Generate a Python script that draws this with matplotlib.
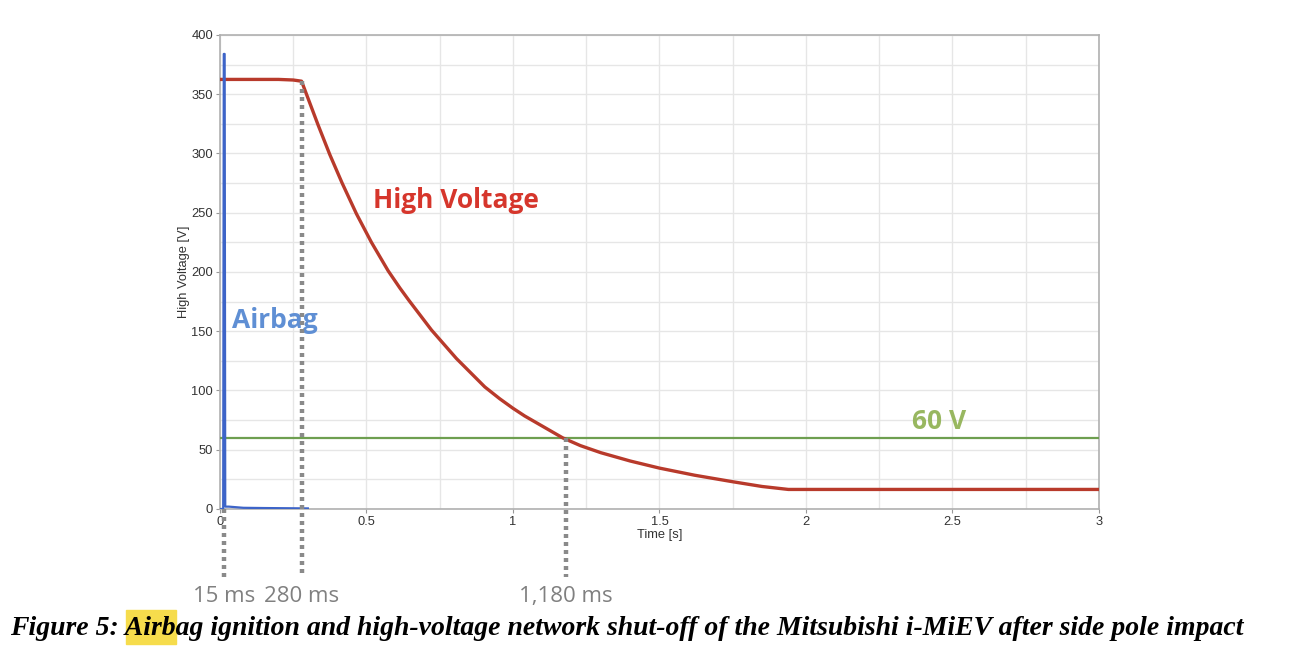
import matplotlib.pyplot as plt
from matplotlib.patches import Rectangle

# high-voltage trace (time in s, voltage in V)
hv_time = [0.0, 0.10, 0.20, 0.25, 0.2785, 0.335, 0.375, 0.417, 0.466, 0.517,
           0.574, 0.614, 0.645, 0.722, 0.807, 0.904, 0.955, 1.0, 1.04, 1.17,
           1.23, 1.30, 1.40, 1.50, 1.62, 1.75, 1.85, 1.94, 2.2, 2.6, 3.0]
hv_volt = [362.5, 362.5, 362.5, 362, 361, 324, 299, 275, 249, 225,
           201, 186.5, 176, 151, 127, 103, 93, 85, 78.5, 60,
           53.5, 47.5, 40.5, 34.5, 28.5, 23, 19, 16.5, 16.5, 16.5, 16.5]

# airbag trigger signal
ab_time = [0.0, 0.011, 0.013, 0.016, 0.018, 0.03, 0.08, 0.15, 0.30]
ab_volt = [0, 0, 384, 384, 2, 2, 1, 0.8, 0.5]

limit_v = 60
marks_s = [0.015, 0.280, 1.180]
marks_lbl = ["15 ms", "280 ms", "1,180 ms"]
marks_top = [0, 361, 60]

x_ticks = [0, 0.5, 1, 1.5, 2, 2.5, 3]
x_tick_lbl = ["0", "0.5", "1", "1.5", "2", "2.5", "3"]
y_ticks = [0, 50, 100, 150, 200, 250, 300, 350, 400]

caption = ("Figure 5: Airbag ignition and high-voltage network shut-off "
           "of the Mitsubishi i-MiEV after side pole impact")

fig = plt.figure(figsize=(13.07, 6.6), dpi=100)
ax = fig.add_axes([0.1683, 0.2288, 0.6725, 0.7182])

# grid every 0.25 s / 25 V
ax.set_xticks([i * 0.25 for i in range(13)], minor=True)
ax.set_yticks([i * 25 for i in range(17)], minor=True)
ax.grid(True, which="both", color="#e6e6e6", lw=1)
ax.set_axisbelow(True)

ax.plot([0, 3], [limit_v, limit_v], color="#6e9f50", lw=1.6, zorder=3)
ax.plot(hv_time, hv_volt, color="#b83a2b", lw=2.4, zorder=4,
        solid_joinstyle="round")
ax.plot(ab_time, ab_volt, color="#3d64c8", lw=1.6, zorder=5)

for t, top, lbl in zip(marks_s, marks_top, marks_lbl):
    ax.plot([t, t], [top, -57], color="#8a8a8a", lw=3.2, ls=(0, (0.9, 0.9)),
            clip_on=False, zorder=6)
    ax.text(t, -74, lbl, color="#808080", fontsize=16, ha="center", va="center",
            family="Open Sans", clip_on=False)

ax.text(0.805, 260, "High Voltage", color="#d6362c", fontsize=19, fontweight="bold",
        family="Open Sans", ha="center", va="center")
ax.text(0.04, 159, "Airbag", color="#5f8fd4", fontsize=19, fontweight="bold",
        family="Open Sans", ha="left", va="center")
ax.text(2.455, 74, "60 V", color="#98b760", fontsize=19, fontweight="bold",
        family="Open Sans", ha="center", va="center")

ax.set_xlim(0, 3)
ax.set_ylim(0, 400)
ax.set_xticks(x_ticks)
ax.set_xticklabels(x_tick_lbl, family="Liberation Sans")
ax.set_yticks(y_ticks)
ax.set_yticklabels([str(v) for v in y_ticks], family="Liberation Sans")
ax.tick_params(which="major", length=3, color="#999999", labelsize=9.3,
               labelcolor="#333333", pad=2)
ax.tick_params(which="minor", length=0)
for s in ax.spines.values():
    s.set_color("#b0b0b0")
    s.set_linewidth(1.2)
ax.set_xlabel("Time [s]", fontsize=9.3, color="#333333", labelpad=1,
              family="Liberation Sans")
ax.set_ylabel("High Voltage [V]", fontsize=9.3, color="#333333", labelpad=1,
              family="Liberation Sans")

# caption with highlighted "Airb"
cap_kw = dict(family="Liberation Serif", fontsize=20, fontweight="bold",
              style="italic", ha="left", va="center")
cap_x, cap_y = 10 / 1307, 0.048
fig.text(cap_x, cap_y, caption, **cap_kw)
fig.canvas.draw()
rend = fig.canvas.get_renderer()
pre = fig.text(cap_x, cap_y, "Figure 5: ", **cap_kw)
pre2 = fig.text(cap_x, cap_y, "Figure 5: Airb", **cap_kw)
w1 = pre.get_window_extent(rend).x1
w2 = pre2.get_window_extent(rend).x1
pre.remove()
pre2.remove()
fw = fig.bbox.width
fig.patches.append(Rectangle((w1 / fw, 16 / 660), (w2 - w1) / fw, 34 / 660,
                             transform=fig.transFigure, color="#f6dc4c", zorder=0))

fig.savefig("out.png", dpi=100)
